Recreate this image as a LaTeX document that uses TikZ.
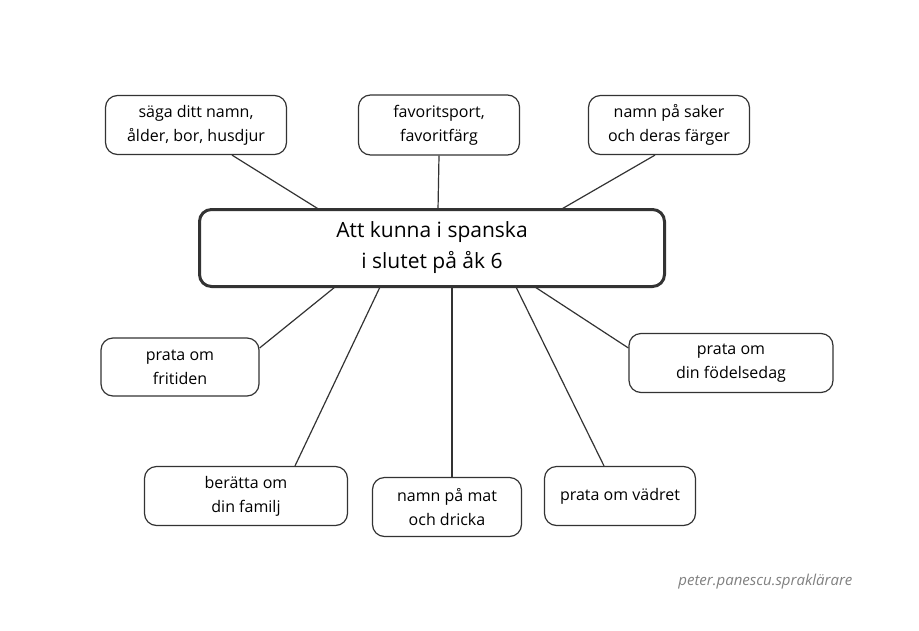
\documentclass[tikz,border=0pt]{standalone}
\usepackage{fontspec}
\setmainfont{Open Sans}
\begin{document}
\begin{tikzpicture}[x=1pt,y=-1pt,
  box/.style={draw=black!80,line width=1.2pt,rounded corners=12pt,align=center,font=\fontsize{16}{24}\selectfont,inner sep=0pt},
  link/.style={draw=black!80,line width=1.2pt}]
\useasboundingbox (0,0) rectangle (919,630);
\node[box,minimum width=465,minimum height=77,line width=3pt,font=\fontsize{21}{31}\selectfont] (c) at (432,248) {Att kunna i spanska\\i slutet på åk 6};
\node[box,minimum width=181,minimum height=59] (tl) at (196,125) {säga ditt namn,\\ålder, bor, husdjur};
\node[box,minimum width=161,minimum height=60] (tm) at (439,125) {favoritsport,\\favoritfärg};
\node[box,minimum width=161,minimum height=59] (tr) at (669,125) {namn på saker\\och deras färger};
\node[box,minimum width=158,minimum height=58] (l) at (180,367) {prata om\\fritiden};
\node[box,minimum width=204,minimum height=59] (r) at (731,363) {prata om\\din födelsedag};
\node[box,minimum width=203,minimum height=59] (bl) at (246,496) {berätta om\\din familj};
\node[box,minimum width=149,minimum height=59] (bm) at (447,507) {namn på mat\\och dricka};
\node[box,minimum width=151,minimum height=59] (br) at (620,496) {prata om vädret};
\coordinate (c1) at (320,210);
\coordinate (c2) at (438,210);
\coordinate (c3) at (560,210);
\coordinate (c4) at (335,287);
\coordinate (c5) at (380,287);
\coordinate (c6) at (452,287);
\coordinate (c7) at (516,287);
\coordinate (c8) at (535,287);
\draw[link] (tl.south) ++(36,0) -- (c1);
\draw[link] (tm.south) -- (c2);
\draw[link] (tr.south) ++(-14,0) -- (c3);
\draw[link] (l.east) ++(0,-19) -- (c4);
\draw[link] (bl.north) ++(49,0) -- (c5);
\draw[link] (bm.north) ++(5,0) -- (c6);
\draw[link] (br.north) ++(-16,0) -- (c7);
\draw[link] (r.west) ++(0,-15) -- (c8);
\node[anchor=east,text=black!50,font=\fontsize{15}{18}\selectfont\itshape] (cr) at (856,582) {peter.panescu.spraklärare};
\end{tikzpicture}
\end{document}
